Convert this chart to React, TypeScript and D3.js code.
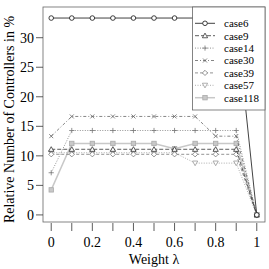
import * as d3 from "d3";

const lambdas = [0, 0.1, 0.2, 0.3, 0.4, 0.5, 0.6, 0.7, 0.8, 0.9, 1];

const case6 = [33.33, 33.33, 33.33, 33.33, 33.33, 33.33, 33.33, 33.33, 33.33, 33.33, 0];
const case9 = [11.11, 11.11, 11.11, 11.11, 11.11, 11.11, 11.11, 11.11, 11.11, 11.11, 0];
const case14 = [7.14, 14.29, 14.29, 14.29, 14.29, 14.29, 14.29, 14.29, 14.29, 14.29, 0];
const case30 = [13.33, 16.67, 16.67, 16.67, 16.67, 16.67, 16.67, 16.67, 13.33, 13.33, 0];
const case39 = [10.26, 10.26, 10.26, 10.26, 10.26, 10.26, 10.26, 10.26, 10.26, 10.26, 0];
const case57 = [10.53, 10.53, 10.53, 10.53, 10.53, 10.53, 10.53, 8.77, 8.77, 8.77, 0];
const case118 = [4.24, 12.1, 12.1, 12.1, 12.1, 12.1, 11.2, 12.1, 12.1, 12.1, 0];

const xTicks = [0, 0.1, 0.2, 0.3, 0.4, 0.5, 0.6, 0.7, 0.8, 0.9, 1];
const xLabels = [0, 0.2, 0.4, 0.6, 0.8, 1];
const yTicks = [0, 5, 10, 15, 20, 25, 30];

type Series = {
  name: string;
  values: number[];
  stroke: string;
  width: number;
  dash: string;
  marker: string;
  fill: string;
};

const series: Series[] = [
  { name: "case6", values: case6, stroke: "#111", width: 0.8, dash: "", marker: "circle", fill: "none" },
  { name: "case9", values: case9, stroke: "#333", width: 0.8, dash: "4,2", marker: "triangle", fill: "none" },
  { name: "case14", values: case14, stroke: "#777", width: 0.8, dash: "1,1.5", marker: "plus", fill: "none" },
  { name: "case30", values: case30, stroke: "#666", width: 0.8, dash: "3,2,1,2", marker: "cross", fill: "none" },
  { name: "case39", values: case39, stroke: "#777", width: 0.8, dash: "3,2", marker: "diamond", fill: "none" },
  { name: "case57", values: case57, stroke: "#999", width: 0.8, dash: "1,1.5", marker: "down", fill: "none" },
  { name: "case118", values: case118, stroke: "#c8c8c8", width: 1.5, dash: "", marker: "square", fill: "#c8c8c8" },
];

const FONT = "Liberation Serif, Times New Roman, Times, serif";

function Marker({ kind, x, y, color, fill }: { kind: string; x: number; y: number; color: string; fill: string }) {
  const s = 2.6;
  const common = { stroke: color, strokeWidth: 0.8, fill: "none" };
  if (kind === "circle") return <circle cx={x} cy={y} r={2.3} {...common} fill="white" />;
  if (kind === "triangle")
    return <path d={`M${x},${y - s}L${x + s},${y + s * 0.8}L${x - s},${y + s * 0.8}Z`} {...common} fill="white" />;
  if (kind === "down")
    return <path d={`M${x},${y + s}L${x + s},${y - s * 0.8}L${x - s},${y - s * 0.8}Z`} {...common} fill="white" />;
  if (kind === "plus") return <path d={`M${x - s},${y}H${x + s}M${x},${y - s}V${y + s}`} {...common} />;
  if (kind === "cross")
    return <path d={`M${x - 2},${y - 2}L${x + 2},${y + 2}M${x - 2},${y + 2}L${x + 2},${y - 2}`} {...common} />;
  if (kind === "diamond")
    return <path d={`M${x},${y - s}L${x + s},${y}L${x},${y + s}L${x - s},${y}Z`} {...common} fill="white" />;
  return <rect x={x - 2.2} y={y - 2.2} width={4.4} height={4.4} stroke="#aaa" strokeWidth={0.8} fill={fill} />;
}

export default function App() {
  const left = 43, right = 265, top = 7, bottom = 222;
  const x = d3.scaleLinear().domain([-0.04, 1.04]).range([left, right]);
  const y = d3.scaleLinear().domain([-1.2, 35.2]).range([bottom, top]);
  const line = d3
    .line<number>()
    .x((_, i) => x(lambdas[i]))
    .y((d) => y(d));

  const legX = 192.5, legY = 7, legW = right - 192.5, legH = 103;
  const rowY = (i: number) => 23.3 + i * 12.4;
  const txt = { fontFamily: FONT };

  return (
    <svg
      width={269}
      height={269}
      style={{ position: "absolute", left: 0, top: 0, background: "white", fontFamily: FONT }}
    >
      {/* frame */}
      <rect x={left} y={top} width={right - left} height={bottom - top} fill="none" stroke="#666" strokeWidth={0.8} />

      {/* y axis */}
      {yTicks.map((t) => (
        <g key={t}>
          <line x1={left - 7} x2={left} y1={y(t)} y2={y(t)} stroke="#333" strokeWidth={0.8} />
          <text x={left - 9} y={y(t)} dy="0.35em" textAnchor="end" fontSize={14} style={txt}>
            {t}
          </text>
        </g>
      ))}
      <text
        transform={`translate(14,${(top + bottom) / 2 + 5}) rotate(-90)`}
        textAnchor="middle"
        fontSize={14}
        style={txt}
      >
        Relative Number of Controllers in %
      </text>

      {/* x axis */}
      {xTicks.map((t) => (
        <line key={t} x1={x(t)} x2={x(t)} y1={bottom + 1} y2={bottom + 9} stroke="#333" strokeWidth={0.8} />
      ))}
      {xLabels.map((t) => (
        <text key={t} x={x(t)} y={247} textAnchor="middle" fontSize={14} style={txt}>
          {t}
        </text>
      ))}
      <text x={(left + right) / 2} y={264} textAnchor="middle" fontSize={14} style={txt}>
        Weight λ
      </text>

      {/* series */}
      {series
        .slice()
        .reverse()
        .map((s) => (
          <g key={s.name}>
            <path
              d={line(s.values) ?? ""}
              fill="none"
              stroke={s.stroke}
              strokeWidth={s.width}
              strokeDasharray={s.dash}
            />
            {s.values.map((v, i) => (
              <Marker key={i} kind={s.marker} x={x(lambdas[i])} y={y(v)} color={s.stroke === "#c8c8c8" ? "#aaa" : s.stroke} fill={s.fill} />
            ))}
          </g>
        ))}

      {/* legend */}
      <rect x={legX} y={legY} width={legW} height={legH} fill="white" stroke="#666" strokeWidth={0.8} />
      {series.map((s, i) => (
        <g key={s.name}>
          <line
            x1={195}
            x2={215}
            y1={rowY(i)}
            y2={rowY(i)}
            stroke={s.stroke}
            strokeWidth={s.width}
            strokeDasharray={s.dash}
          />
          <Marker kind={s.marker} x={205} y={rowY(i)} color={s.stroke === "#c8c8c8" ? "#aaa" : s.stroke} fill={s.fill} />
          <text x={224} y={rowY(i)} dy="0.35em" fontSize={11} style={txt}>
            {s.name}
          </text>
        </g>
      ))}
    </svg>
  );
}
